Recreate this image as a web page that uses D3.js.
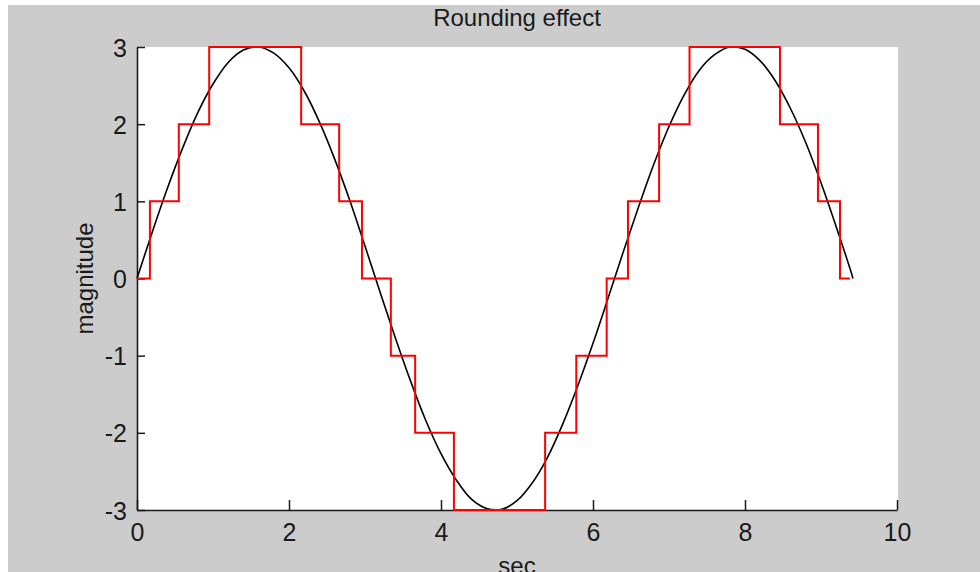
<!DOCTYPE html>
<html>
<head>
<meta charset="utf-8">
<script src="https://cdn.jsdelivr.net/npm/d3@7"></script>
<style>
  html, body { margin: 0; padding: 0; background: #ffffff; }
  svg { display: block; }
  text { font-family: "Liberation Sans", Arial, Helvetica, sans-serif; fill: #1a1a1a; }
</style>
</head>
<body>
<svg id="chart" width="980" height="572"></svg>
<script>
// ---- data ----
const title = "Rounding effect";
const xLabel = "sec";
const yLabel = "magnitude";
const xTicks = [0, 2, 4, 6, 8, 10];
const yTicks = [-3, -2, -1, 0, 1, 2, 3];

// black curve: sampled points
const curveT = [0, 0.2, 0.4, 0.6, 0.8, 1.0, 1.2, 1.4, 1.6, 1.8, 2.0, 2.2, 2.4, 2.6, 2.8, 3.0,
  3.2, 3.4, 3.6, 3.8, 4.0, 4.2, 4.4, 4.6, 4.8, 5.0, 5.2, 5.4, 5.6, 5.8, 6.0, 6.2,
  6.4, 6.6, 6.8, 7.0, 7.2, 7.4, 7.6, 7.8, 8.0, 8.2, 8.4, 8.6, 8.8, 9.0, 9.2, 9.4, 9.42];
const curveV = [0, 0.60, 1.17, 1.69, 2.15, 2.52, 2.80, 2.96, 3.00, 2.92, 2.73, 2.43, 2.03, 1.55, 1.01, 0.42,
  -0.18, -0.77, -1.33, -1.84, -2.27, -2.61, -2.86, -2.98, -2.99, -2.88, -2.65, -2.32, -1.89, -1.39, -0.84, -0.25,
  0.35, 0.93, 1.48, 1.97, 2.38, 2.70, 2.90, 3.00, 2.97, 2.82, 2.56, 2.20, 1.76, 1.24, 0.67, 0.07, 0.0];

// red staircase: step start positions and levels
const stepT = [0, 0.17, 0.55, 0.95, 2.16, 2.66, 2.96, 3.34, 3.66, 4.17, 5.37, 5.78, 6.18, 6.46, 6.87, 7.27, 8.46, 8.96, 9.25, 9.38];
const stepV = [0, 1, 2, 3, 2, 1, 0, -1, -2, -3, -2, -1, 0, 1, 2, 3, 2, 1, 0, 0];

// ---- layout ----
const svg = d3.select("#chart");
const W = 980, H = 572;
const pLeft = 137, pRight = 897, pTop = 47, pBottom = 510;

// background: gray with thin white border at top/left
svg.append("rect").attr("x", 0).attr("y", 0).attr("width", W).attr("height", H).attr("fill", "#ffffff");
svg.append("rect").attr("x", 8).attr("y", 5).attr("width", W - 8).attr("height", H - 5).attr("fill", "#cccccc");
svg.append("rect").attr("x", pLeft).attr("y", pTop).attr("width", pRight - pLeft + 1).attr("height", pBottom - pTop)
  .attr("fill", "#ffffff");

const x = d3.scaleLinear().domain([0, 10]).range([pLeft, pRight]);
const y = d3.scaleLinear().domain([-3, 3]).range([pBottom, pTop]);

// axes (plain hyphen for negatives, as in the reference)
const fmt = d => String(d);
const xAxis = d3.axisBottom(x).tickValues(xTicks).tickFormat(fmt)
  .tickSizeInner(-10).tickSizeOuter(0).tickPadding(13);
const yAxis = d3.axisLeft(y).tickValues(yTicks).tickFormat(fmt)
  .tickSizeInner(-8).tickSizeOuter(0).tickPadding(10);

const gx = svg.append("g").attr("transform", `translate(0,${pBottom})`).call(xAxis);
const gy = svg.append("g").attr("transform", `translate(${pLeft},0)`).call(yAxis);
[gx, gy].forEach(g => {
  g.selectAll("path.domain").attr("stroke", "#1a1a1a").attr("stroke-width", 1.6);
  g.selectAll(".tick line").attr("stroke", "#1a1a1a").attr("stroke-width", 1.5);
  g.selectAll(".tick text").attr("font-size", 25).attr("fill", "#1a1a1a")
    .style("font-family", '"Liberation Sans", Arial, sans-serif');
});
gy.selectAll(".tick text").attr("dy", "0.36em");

// black curve
const pts = curveT.map((t, i) => [t, curveV[i]]);
svg.append("path")
  .datum(pts)
  .attr("fill", "none")
  .attr("stroke", "#000000")
  .attr("stroke-width", 1.6)
  .attr("d", d3.line().x(d => x(d[0])).y(d => y(d[1])).curve(d3.curveCatmullRom));

// red staircase
const steps = stepT.map((t, i) => [t, stepV[i]]);
svg.append("path")
  .datum(steps)
  .attr("fill", "none")
  .attr("stroke", "#ff0000")
  .attr("stroke-width", 2)
  .attr("d", d3.line().x(d => x(d[0])).y(d => y(d[1])).curve(d3.curveStepAfter));

// texts
svg.append("text").attr("x", (pLeft + pRight) / 2).attr("y", 26)
  .attr("text-anchor", "middle").attr("font-size", 24).text(title);
svg.append("text").attr("x", (pLeft + pRight) / 2).attr("y", 574)
  .attr("text-anchor", "middle").attr("font-size", 24).text(xLabel);
svg.append("text").attr("transform", `translate(93,${(pTop + pBottom) / 2}) rotate(-90)`)
  .attr("text-anchor", "middle").attr("font-size", 24).text(yLabel);
</script>
</body>
</html>
